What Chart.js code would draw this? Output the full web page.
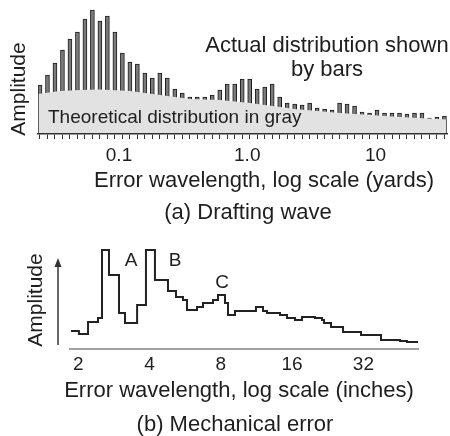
<!DOCTYPE html>
<html>
<head>
<meta charset="utf-8">
<script src="https://cdn.jsdelivr.net/npm/chart.js@4.4.1/dist/chart.umd.min.js"></script>
<style>
  html, body { margin: 0; padding: 0; background: #fff; }
  #wrap { position: relative; width: 450px; height: 436px; }
  canvas { position: absolute; left: 0; }
  #waveChart { top: 0; }
  #mechChart { top: 228px; }
</style>
</head>
<body>
<div id="wrap">
  <canvas id="waveChart" width="450" height="228"></canvas>
  <canvas id="mechChart" width="450" height="208"></canvas>
</div>
<script>
// (a) Drafting wave - wavelength of each bar (yards) and its amplitude
const waveBins = [
  0.02421, 0.02769, 0.03168, 0.03624, 0.04145, 0.04742, 0.05424, 0.06204, 0.07097, 0.08118,
  0.0929, 0.1063, 0.1216, 0.1391, 0.1591, 0.1820, 0.2082, 0.2381, 0.2724, 0.3116,
  0.3565, 0.4077, 0.4665, 0.5336, 0.6103, 0.6982, 0.7985, 0.9137, 1.045, 1.196,
  1.368, 1.565, 1.790, 2.048, 2.342, 2.679, 3.065, 3.506, 4.010, 4.587,
  5.248, 6.003, 6.867, 7.855, 8.986, 10.28, 11.76, 13.45, 15.39, 17.60,
  20.14, 23.03, 26.35, 30.14, 34.48
];
const waveAmps = [
  49, 59, 71, 84, 95, 102, 115, 124, 113, 118,
  102, 81, 72, 70, 61, 56, 61, 56, 45, 41,
  37, 37, 37, 39, 44, 50, 50, 55, 55, 45,
  47, 50, 37, 31, 30, 29, 31, 26, 25, 24,
  31, 30, 28, 22, 21, 24, 21, 21, 21, 20,
  21, 21, 16, 17, 18
];
// theoretical distribution (gray area), closed down to zero at both ends
const theoryWave = [0.02336, 0.02336, 0.03467, 0.04966, 0.07111, 0.1219, 0.2088, 0.3579, 0.6132, 1.051, 2.357, 5.286, 15.52, 36.1, 36.1];
const theoryAmps = [0, 40, 43, 44, 44.5, 43, 39, 35, 34, 31, 25, 21, 17, 14.5, 0];
const waveTicks = [0.1, 1, 10];
const waveTickLabels = ['0.1', '1.0', '10'];

// (b) Mechanical error - step line, wavelength (inches) where each level starts
const mechWave = [
  1.864, 2.014, 2.201, 2.425, 2.521, 2.698, 2.974, 3.153, 3.546, 3.865,
  4.218, 4.788, 5.175, 5.540, 5.759, 6.348, 6.730, 7.417, 7.785, 8.333,
  8.580, 9.184, 11.26, 12.06, 12.54, 14.22, 15.23, 16.46, 17.62, 19.99,
  21.40, 21.82, 23.36, 26.25, 31.26, 37.97, 45.68, 48.89, 54.41
];
const mechAmps = [
  18, 15, 27, 31, 99, 74, 36, 26, 44, 99,
  69, 58, 52, 49, 39, 42, 46, 49, 54, 46,
  34, 38, 42, 38, 36, 34, 31, 29, 32, 31,
  29, 26, 22, 17, 14, 9, 8, 7, 7
];
const mechTicks = [2, 4, 8, 16, 32];

const FONT = '"Liberation Sans", Arial, Helvetica, sans-serif';
const INK = '#1e1e1e';

// draws free text (axis titles, captions, notes) on top of the chart
function notes(id, items) {
  return {
    id: id,
    afterDraw(chart) {
      const ctx = chart.ctx;
      ctx.save();
      ctx.fillStyle = INK;
      ctx.textBaseline = 'middle';
      items.forEach(t => {
        ctx.font = t.size + 'px ' + FONT;
        ctx.textAlign = t.align || 'center';
        if (t.rotate) {
          ctx.save();
          ctx.translate(t.x, t.y);
          ctx.rotate(-Math.PI / 2);
          ctx.fillText(t.text, 0, 0);
          ctx.restore();
        } else {
          ctx.fillText(t.text, t.x, t.y);
        }
      });
      ctx.restore();
    }
  };
}

// vertical arrow standing in for the amplitude axis of chart (b)
const arrowAxis = {
  id: 'arrowAxis',
  afterDraw(chart) {
    const { ctx, chartArea, scales } = chart;
    const x = chartArea.left - 12;
    const y0 = scales.y.getPixelForValue(4);
    const y1 = scales.y.getPixelForValue(91);
    ctx.save();
    ctx.strokeStyle = '#333';
    ctx.fillStyle = '#333';
    ctx.lineWidth = 1.5;
    ctx.beginPath();
    ctx.moveTo(x, y0);
    ctx.lineTo(x, y1 + 6);
    ctx.stroke();
    ctx.beginPath();
    ctx.moveTo(x, y1);
    ctx.lineTo(x - 3.5, y1 + 9);
    ctx.lineTo(x + 3.5, y1 + 9);
    ctx.closePath();
    ctx.fill();
    ctx.restore();
  }
};

const lastTheory = theoryWave.length - 1;

new Chart(document.getElementById('waveChart'), {
  type: 'bar',
  data: {
    datasets: [
      {
        type: 'line',
        data: theoryWave.map((w, i) => ({ x: w, y: theoryAmps[i] })),
        fill: 'origin',
        backgroundColor: '#e2e2e2',
        borderColor: '#333',
        borderWidth: 1.5,
        pointRadius: 0,
        tension: 0,
        order: 1,
        segment: {
          borderColor: c => (c.p0DataIndex === 0 || c.p1DataIndex === lastTheory) ? '#333' : 'rgba(0,0,0,0)'
        }
      },
      {
        type: 'bar',
        data: waveBins.map((w, i) => ({ x: w, y: waveAmps[i] })),
        backgroundColor: '#7a7a7a',
        borderColor: '#1c1c1c',
        borderWidth: 1,
        barThickness: 4,
        order: 2
      }
    ]
  },
  options: {
    responsive: false,
    animation: false,
    devicePixelRatio: 1,
    layout: { padding: { left: 38, right: 3, top: 4, bottom: 0 } },
    plugins: { legend: { display: false }, tooltip: { enabled: false } },
    scales: {
      x: {
        type: 'logarithmic',
        min: 0.02336,
        max: 36.1,
        offset: false,
        afterBuildTicks: s => {
          s.ticks = [...waveBins, ...waveTicks].sort((a, b) => a - b).map(v => ({ value: v }));
        },
        afterFit: s => { s.height = 94; },
        border: { display: true, color: '#333', width: 1.5, z: 1 },
        grid: {
          offset: false,
          drawOnChartArea: false,
          drawTicks: true,
          tickLength: 5,
          tickWidth: 1,
          tickColor: c => (c.tick && waveTicks.includes(c.tick.value)) ? 'rgba(0,0,0,0)' : '#333'
        },
        ticks: {
          autoSkip: false,
          maxRotation: 0,
          padding: 5,
          color: INK,
          font: { family: FONT, size: 19 },
          callback: v => {
            const k = waveTicks.indexOf(v);
            return k >= 0 ? waveTickLabels[k] : '';
          }
        }
      },
      y: { display: false, min: 0, max: 130 }
    }
  },
  plugins: [notes('notesA', [
    { text: 'Amplitude', x: 19.5, y: 89, size: 21, rotate: true },
    { text: 'Actual distribution shown', x: 327, y: 46, size: 22 },
    { text: 'by bars', x: 327, y: 70, size: 22 },
    { text: 'Theoretical distribution in gray', x: 48, y: 118, size: 19, align: 'left' },
    { text: 'Error wavelength, log scale (yards)', x: 264, y: 181, size: 22 },
    { text: '(a) Drafting wave', x: 248, y: 213, size: 22 }
  ])]
});

new Chart(document.getElementById('mechChart'), {
  type: 'line',
  data: {
    datasets: [{
      data: mechWave.map((w, i) => ({ x: w, y: mechAmps[i] })),
      stepped: 'before',
      borderColor: '#222',
      borderWidth: 2,
      pointRadius: 0,
      fill: false
    }]
  },
  options: {
    responsive: false,
    animation: false,
    devicePixelRatio: 1,
    layout: { padding: { left: 70, right: 32, top: 17, bottom: 0 } },
    plugins: { legend: { display: false }, tooltip: { enabled: false } },
    scales: {
      x: {
        type: 'logarithmic',
        min: 1.847,
        max: 54.4,
        afterBuildTicks: s => { s.ticks = mechTicks.map(v => ({ value: v })); },
        afterFit: s => { s.height = 87; },
        border: { display: true, color: '#a0a0a0', width: 2 },
        grid: { drawOnChartArea: false, drawTicks: false },
        ticks: {
          autoSkip: false,
          maxRotation: 0,
          padding: 4,
          color: INK,
          font: { family: FONT, size: 19 },
          callback: v => String(v)
        }
      },
      y: { display: false, min: 0, max: 104 }
    }
  },
  plugins: [arrowAxis, notes('notesB', [
    { text: 'Amplitude', x: 36.5, y: 72, size: 21, rotate: true },
    { text: 'A', x: 131, y: 33, size: 19 },
    { text: 'B', x: 175, y: 33, size: 19 },
    { text: 'C', x: 222, y: 55, size: 19 },
    { text: 'Error wavelength, log scale (inches)', x: 239, y: 163, size: 22 },
    { text: '(b) Mechanical error', x: 235, y: 197, size: 22 }
  ])]
});
</script>
</body>
</html>
